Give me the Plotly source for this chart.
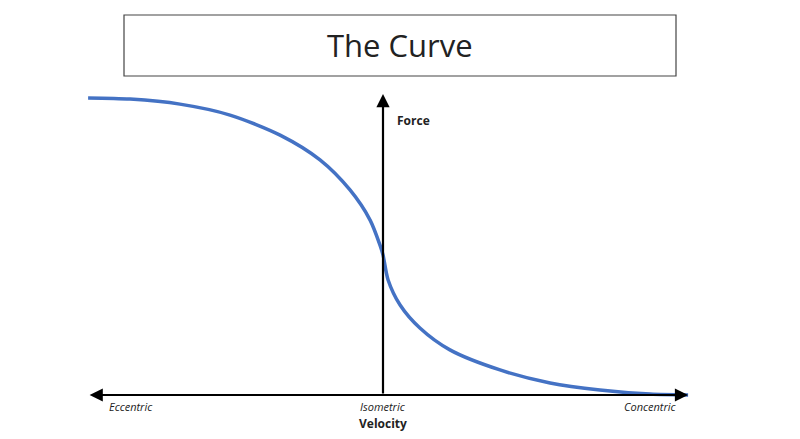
import plotly.graph_objects as go

velocity = [-0.983, -0.843, -0.677, -0.51, -0.343, -0.21, -0.11, -0.043, -0.01, 0.0,
            0.017, 0.057, 0.123, 0.223, 0.39, 0.557, 0.723, 0.89, 1.017]
force = [1.007, 1.003, 0.986, 0.949, 0.881, 0.797, 0.695, 0.593, 0.508, 0.475,
         0.39, 0.305, 0.227, 0.153, 0.085, 0.041, 0.017, 0.003, 0.0]
x_labels = ["Eccentric", "Isometric", "Concentric"]
x_label_pos = [-0.84, 0.0, 0.89]

W, H = 784, 428
OFF = 8
fig = go.Figure()
fig.add_trace(go.Scatter(x=velocity, y=force, mode="lines",
                         line=dict(color="#4472C4", width=3.5, shape="spline", smoothing=0.8),
                         hoverinfo="skip", showlegend=False))

fig.add_annotation(x=0, y=1.02, ax=0, ay=0, xref="x", yref="y", axref="x", ayref="y",
                   text="", showarrow=True, arrowhead=2, arrowsize=1.2, arrowwidth=2.2, arrowcolor="black")
fig.add_annotation(x=1.017, y=0, ax=-0.983, ay=0, xref="x", yref="y", axref="x", ayref="y",
                   text="", showarrow=True, arrowhead=2, arrowsize=1.2, arrowwidth=2.2, arrowcolor="black",
                   startarrowhead=2, startarrowsize=1.2, arrowside="end+start")

for t, p in zip(x_labels, x_label_pos):
    fig.add_annotation(x=p, y=-0.04, xref="x", yref="y", text=f"<i>{t}</i>", showarrow=False,
                       font=dict(family="Open Sans", size=11, color="#222"))
fig.add_annotation(x=0, y=-0.095, xref="x", yref="y", text="<b>Velocity</b>", showarrow=False,
                   font=dict(family="Open Sans", size=12, color="#222"))
fig.add_annotation(x=0.04, y=0.93, xref="x", yref="y", text="<b>Force</b>", showarrow=False,
                   xanchor="left", font=dict(family="Open Sans", size=12, color="#222"))

fig.add_shape(type="rect", xref="paper", yref="paper", x0=(124-OFF)/W, x1=(676-OFF)/W,
              y0=1-(76-OFF)/H, y1=1-(15-OFF)/H, line=dict(color="#444", width=1.2), fillcolor="white")
fig.add_annotation(x=(400-OFF)/W, y=1-(45-OFF)/H, xref="paper", yref="paper", text="The Curve",
                   showarrow=False, yanchor="middle", xanchor="center",
                   font=dict(family="Open Sans", size=31, color="#222"))

fig.update_layout(width=W, height=H, margin=dict(l=0, r=0, t=0, b=0),
                  plot_bgcolor="white", paper_bgcolor="white",
                  xaxis=dict(range=[-(383-OFF)/300, (W-(383-OFF))/300], visible=False),
                  yaxis=dict(range=[-(H-(395-OFF))/295, (395-OFF)/295], visible=False))
fig.write_html("out.html")
